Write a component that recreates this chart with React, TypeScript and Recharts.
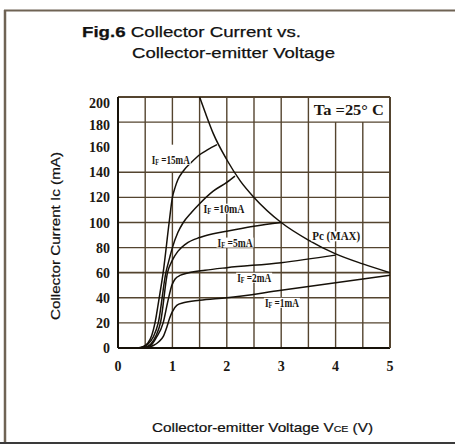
import React from 'react'
import { LineChart, Line, XAxis, YAxis, ReferenceLine, ReferenceDot } from 'recharts'

// Ic vs Vce, one list per base (IF) current
const if15 = [
  { v: 0.35, i: 0 }, { v: 0.45, i: 1 }, { v: 0.55, i: 4 }, { v: 0.62, i: 10 }, { v: 0.68, i: 20 },
  { v: 0.75, i: 38 }, { v: 0.83, i: 60 }, { v: 0.94, i: 100 }, { v: 1.0, i: 120 }, { v: 1.05, i: 128 },
  { v: 1.1, i: 134 }, { v: 1.2, i: 141 }, { v: 1.35, i: 148 }, { v: 1.5, i: 154 }, { v: 1.65, i: 158 },
  { v: 1.82, i: 162 },
]
const if10 = [
  { v: 0.35, i: 0 }, { v: 0.45, i: 0.5 }, { v: 0.55, i: 3 }, { v: 0.65, i: 9 }, { v: 0.74, i: 20 },
  { v: 0.88, i: 60 }, { v: 0.95, i: 72 }, { v: 1.0, i: 80 }, { v: 1.1, i: 92 }, { v: 1.2, i: 100 },
  { v: 1.35, i: 108 }, { v: 1.5, i: 115 }, { v: 1.75, i: 125 }, { v: 2.0, i: 132 }, { v: 2.15, i: 137 },
]
const if5 = [
  { v: 0.4, i: 0 }, { v: 0.5, i: 0.5 }, { v: 0.6, i: 3 }, { v: 0.7, i: 10 }, { v: 0.78, i: 20 },
  { v: 0.91, i: 60 }, { v: 1.0, i: 70 }, { v: 1.1, i: 77 }, { v: 1.25, i: 83 }, { v: 1.5, i: 88 },
  { v: 1.75, i: 91 }, { v: 2.0, i: 93 }, { v: 2.5, i: 97 }, { v: 3.0, i: 100 },
]
const if2 = [
  { v: 0.4, i: 0 }, { v: 0.5, i: 0.5 }, { v: 0.6, i: 2 }, { v: 0.7, i: 8 }, { v: 0.83, i: 20 },
  { v: 0.92, i: 38 }, { v: 0.99, i: 50 }, { v: 1.05, i: 55 }, { v: 1.15, i: 58 }, { v: 1.3, i: 60 },
  { v: 1.6, i: 62 }, { v: 2.0, i: 64 }, { v: 3.0, i: 68 }, { v: 4.0, i: 74 },
]
const if1 = [
  { v: 0.45, i: 0 }, { v: 0.55, i: 0.5 }, { v: 0.65, i: 2 }, { v: 0.75, i: 5 }, { v: 0.83, i: 9 },
  { v: 0.9, i: 17 }, { v: 0.95, i: 24 }, { v: 1.0, i: 29 }, { v: 1.08, i: 34 }, { v: 1.2, i: 36 },
  { v: 1.5, i: 38 }, { v: 2.0, i: 40 }, { v: 3.0, i: 46 }, { v: 4.0, i: 52 }, { v: 5.0, i: 58 },
]
// max collector dissipation
const pcMax = [
  { v: 1.5, i: 200 }, { v: 1.6, i: 188 }, { v: 1.75, i: 171 }, { v: 2.0, i: 150 }, { v: 2.25, i: 133 },
  { v: 2.5, i: 120 }, { v: 3.0, i: 100 }, { v: 3.5, i: 86 }, { v: 4.0, i: 75 }, { v: 4.5, i: 67 },
  { v: 5.0, i: 60 },
]

const xTicks = [0, 1, 2, 3, 4, 5]
const yTicks = [0, 20, 40, 60, 80, 100, 120, 140, 160, 180, 200]
const hGrid = [20, 40, 60, 80, 100, 120, 140, 180]
const vGrid = [0.5, 1.5, 2, 2.5, 3, 3.5]
const vGridShort = [4, 4.5]

const curveNotes = [
  { v: 0.62, i: 150, sub: 'F', text: ' =15mA', w: 38 },
  { v: 1.57, i: 111, sub: 'F', text: ' =10mA', w: 41 },
  { v: 1.83, i: 84, sub: 'F', text: ' =5mA', w: 35 },
  { v: 2.19, i: 56, sub: 'F', text: ' =2mA', w: 34 },
  { v: 2.7, i: 36, sub: 'F', text: ' =1mA', w: 34 },
]

const INK = '#161109'
const GRID = '#54442f'
const SERIF = '"Liberation Serif", "DejaVu Serif", serif'
const SANS = '"Liberation Sans", Arial, sans-serif'

const YTick = (props: any) => {
  const { x, y, payload } = props
  // the top labels sit a little low in the original
  const nudge = payload.value === 200 ? 6 : payload.value === 180 ? 3 : 0
  return (
    <text x={x} y={y + nudge} dy={5} textAnchor="end" fontFamily={SERIF} fontWeight="bold"
      fontSize={14} fill="#1c1712">
      {payload.value}
    </text>
  )
}

// curve labels sit on a white patch that hides the grid behind them
const note = (n: typeof curveNotes[number]) => (props: any) => (
  <g>
    <rect x={props.cx - 1} y={props.cy - 5} width={n.w + 2} height={10} fill="#fff" />
    <text x={props.cx} y={props.cy} dy={4} fontFamily={SERIF} fontWeight="bold" fontSize={12}
      fill="#1c1712" textLength={n.w} lengthAdjust="spacingAndGlyphs">
      I<tspan fontSize={8} dy={1}>{n.sub}</tspan><tspan dy={-1}>{n.text}</tspan>
    </text>
  </g>
)

export default function App() {
  return (
    <div style={{ position: 'absolute', left: 0, top: 0, width: 455, height: 444, background: '#fff' }}>
      <LineChart width={455} height={444} margin={{ top: 97, right: 65, left: 0, bottom: 66 }}>
        <XAxis type="number" dataKey="v" domain={[0, 5]} ticks={xTicks} axisLine={false} tickLine={false}
          tickMargin={7} height={30} allowDataOverflow
          tick={{ fontFamily: SERIF, fontWeight: 'bold', fontSize: 14, fill: '#1c1712' }} />
        <YAxis type="number" dataKey="i" domain={[0, 200]} ticks={yTicks} axisLine={false} tickLine={false}
          width={118} tick={<YTick />} interval={0} allowDataOverflow />

        {/* grid, 160 line is missing in the original */}
        {hGrid.map((g) => (
          <ReferenceLine key={'h' + g} y={g} stroke={GRID} strokeWidth={g === 60 ? 1.8 : 1.4} />
        ))}
        {vGrid.map((g) => (
          <ReferenceLine key={'v' + g} x={g} stroke={GRID} strokeWidth={1.4} />
        ))}
        {vGridShort.map((g) => (
          <ReferenceLine key={'s' + g} segment={[{ x: g, y: 0 }, { x: g, y: 180 }]} stroke={GRID} strokeWidth={1.4} />
        ))}
        <ReferenceLine segment={[{ x: 1, y: 0 }, { x: 1, y: 140 }]} stroke={GRID} strokeWidth={1.4} />
        <ReferenceLine segment={[{ x: 1, y: 162 }, { x: 1, y: 200 }]} stroke={GRID} strokeWidth={1.4} />

        {/* frame */}
        <ReferenceLine y={0} stroke={INK} strokeWidth={2} />
        <ReferenceLine y={200} stroke={GRID} strokeWidth={2} />
        <ReferenceLine x={0} stroke={INK} strokeWidth={2} />
        <ReferenceLine x={5} stroke={GRID} strokeWidth={2} />

        {curveNotes.map((n) => (
          <ReferenceDot key={n.text} x={n.v} y={n.i} r={0} shape={note(n)} />
        ))}
        <ReferenceDot x={3.57} y={89} r={0} shape={(p: any) => (
          <g>
            <rect x={p.cx - 1} y={p.cy - 5} width={50} height={10} fill="#fff" />
            <text x={p.cx} y={p.cy} dy={4} fontFamily={SERIF} fontWeight="bold" fontSize={12} fill="#1c1712"
              textLength={48} lengthAdjust="spacingAndGlyphs">Pc (MAX)</text>
          </g>
        )} />
        <ReferenceDot x={3.6} y={190} r={0} shape={(p: any) => (
          <text x={p.cx} y={p.cy} dy={5} fontFamily={SERIF} fontWeight="bold" fontSize={15} fill="#1c1712"
            textLength={70} lengthAdjust="spacingAndGlyphs">Ta =25° C</text>
        )} />

        <Line data={if15} dataKey="i" type="monotone" dot={false} stroke={INK} strokeWidth={1.5} isAnimationActive={false} />
        <Line data={if10} dataKey="i" type="monotone" dot={false} stroke={INK} strokeWidth={1.5} isAnimationActive={false} />
        <Line data={if5} dataKey="i" type="monotone" dot={false} stroke={INK} strokeWidth={1.5} isAnimationActive={false} />
        <Line data={if2} dataKey="i" type="monotone" dot={false} stroke={INK} strokeWidth={1.5} isAnimationActive={false} />
        <Line data={if1} dataKey="i" type="monotone" dot={false} stroke={INK} strokeWidth={1.5} isAnimationActive={false} />
        <Line data={pcMax} dataKey="i" type="monotone" dot={false} stroke={INK} strokeWidth={1.5} isAnimationActive={false} />
      </LineChart>

      <svg width={455} height={444} style={{ position: 'absolute', left: 0, top: 0, pointerEvents: 'none' }}>
        <line x1={5} y1={10} x2={5} y2={444} stroke="#6f6354" strokeWidth={2.5} />
        <line x1={4} y1={10.5} x2={455} y2={10.5} stroke="#6f6354" strokeWidth={2} />
        <line x1={0} y1={443} x2={455} y2={443} stroke="#3a3a3a" strokeWidth={2} />

        <text x={82} y={37} fontFamily={SANS} fontSize={15.5} fill="#111" stroke="#111" strokeWidth={0.25}
          textLength={219} lengthAdjust="spacingAndGlyphs">
          <tspan fontWeight="bold">Fig.6</tspan> Collector Current vs.
        </text>
        <text x={132} y={58} fontFamily={SANS} fontSize={15.5} fill="#111" stroke="#111" strokeWidth={0.25}
          textLength={203} lengthAdjust="spacingAndGlyphs">
          Collector-emitter Voltage
        </text>
        <text x={0} y={0} transform="translate(60 236) rotate(-90)" textAnchor="middle" fontFamily={SANS}
          fontSize={13} fill="#111" stroke="#111" strokeWidth={0.2} textLength={168} lengthAdjust="spacingAndGlyphs">
          Collector Current Ic (mA)
        </text>
        <text x={152} y={432} fontFamily={SANS} fontSize={13} fill="#111" stroke="#111" strokeWidth={0.2}
          textLength={221} lengthAdjust="spacingAndGlyphs">
          Collector-emitter Voltage V<tspan fontSize={9}>CE</tspan> (V)
        </text>
      </svg>
    </div>
  )
}
